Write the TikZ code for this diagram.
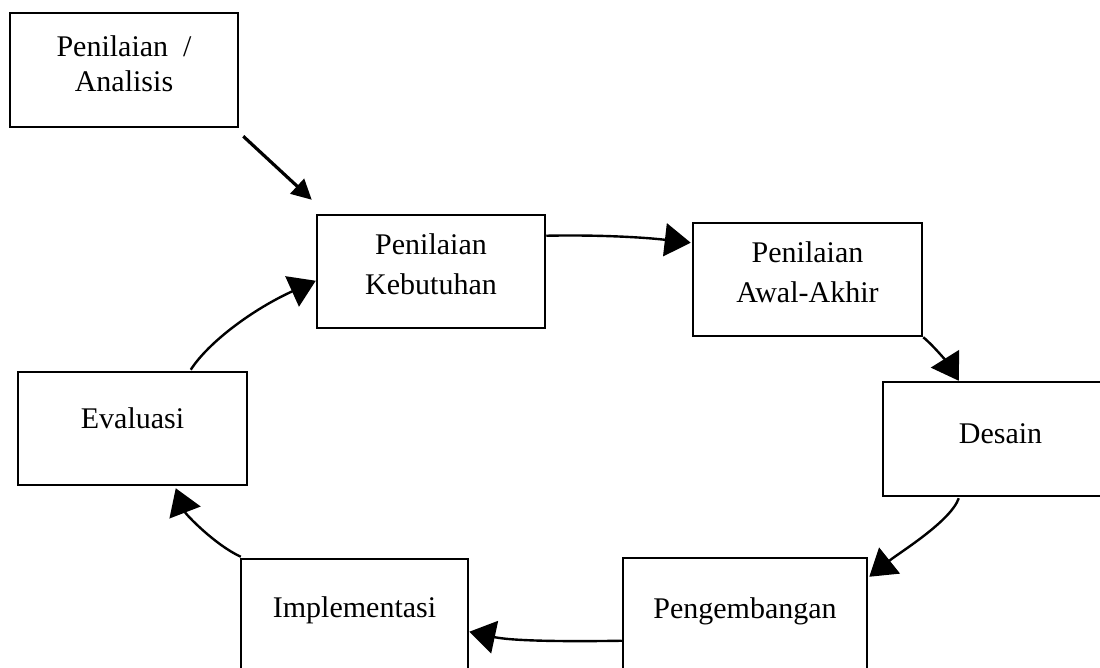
\documentclass[tikz,border=0pt]{standalone}
\usepackage{fontspec}
\setmainfont{Liberation Serif}
\usetikzlibrary{arrows.meta}
\newcommand\boxtxt[5]{\parbox[c][#2][t]{#1}{\fontsize{30}{#3}\selectfont\centering\vspace*{#4}\strut #5}}
\tikzset{
  stagebox/.style={draw=black, line width=2.5pt, rectangle, inner sep=0pt, fill=white},
  flow/.style={draw=black, line width=2.4pt, -{Triangle[length=26pt,width=33pt]}},
  feed/.style={draw=black, line width=3.2pt, -{Triangle[length=20pt,width=20pt]}}
}
\begin{document}
\begin{tikzpicture}[x=1pt,y=-1pt]
\path[use as bounding box, clip] (0,0) rectangle (1100,668);
\fill[white] (0,0) rectangle (1100,668);

\node[stagebox] (b1) at (124,70)    {\boxtxt{228pt}{114pt}{35}{19.5pt}{Penilaian \ /\\Analisis}};
\node[stagebox] (b2) at (431,271.5) {\boxtxt{228pt}{113pt}{40}{12pt}{Penilaian\\Kebutuhan}};
\node[stagebox] (b3) at (807.5,279.5) {\boxtxt{229pt}{113pt}{40}{12pt}{Penilaian\\Awal-Akhir}};
\node[stagebox] (b4) at (1000.5,439) {\boxtxt{235pt}{114pt}{40}{33pt}{Desain}};
\node[stagebox] (b5) at (745,615)   {\boxtxt{244pt}{114pt}{40}{32pt}{Pengembangan}};
\node[stagebox] (b6) at (354.5,616) {\boxtxt{227pt}{114pt}{40}{30pt}{Implementasi}};
\node[stagebox] (b7) at (132.5,428.5) {\boxtxt{229pt}{113pt}{40}{28pt}{Evaluasi}};

% Analisis -> Kebutuhan
\draw[feed] ([shift={(4,8)}]b1.south east) -- ([shift={(-4,-14)}]b2.north west);
% Kebutuhan -> Awal-Akhir
\draw[flow] ([shift={(0,22)}]b2.north east) .. controls +(45,-1) and +(-52,-6) .. ([shift={(-1,21)}]b3.north west);
% Awal-Akhir -> Desain
\draw[flow] (b3.south east) .. controls +(12,10) and +(-10,-16) .. ([shift={(77,0)}]b4.north west);
% Desain -> Pengembangan
\draw[flow] ([shift={(77,1)}]b4.south west) .. controls +(-8,23) and +(30,-24) .. ([shift={(1,20)}]b5.north east);
% Pengembangan -> Implementasi
\draw[flow] ([shift={(0,84)}]b5.north west) .. controls +(-63,1) and +(42,9) .. ([shift={(0,74)}]b6.north east);
% Implementasi -> Evaluasi
\draw[flow] ([shift={(1,-1)}]b6.north west) .. controls +(-26,-12) and +(10,26) .. ([shift={(159,2)}]b7.south west);
% Evaluasi -> Kebutuhan
\draw[flow] ([shift={(174,-1)}]b7.north west) .. controls +(18,-28) and +(-62,28) .. ([shift={(0,67)}]b2.north west);
\end{tikzpicture}
\end{document}
